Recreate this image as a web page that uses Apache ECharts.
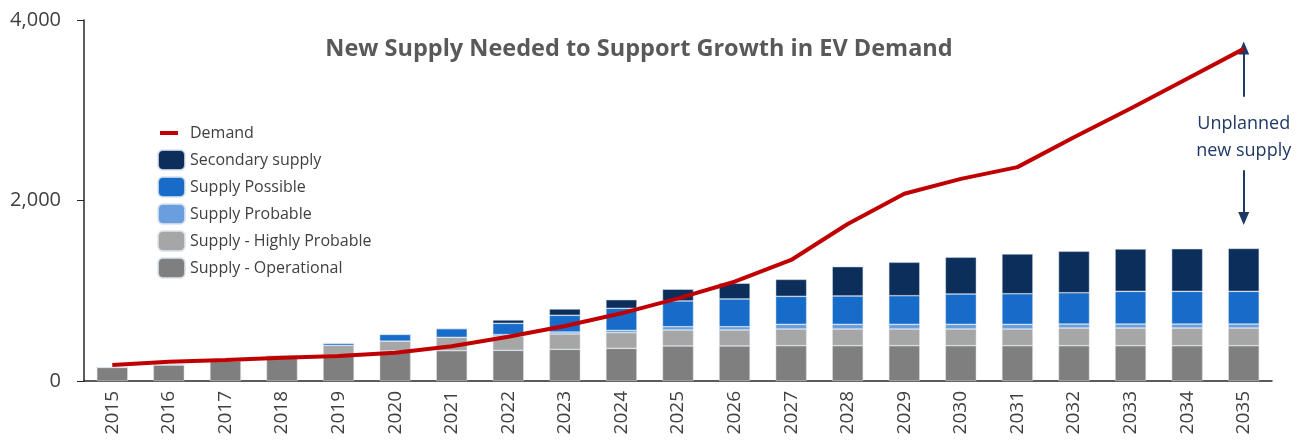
<!DOCTYPE html>
<html>
<head>
<meta charset="utf-8">
<script src="https://cdn.jsdelivr.net/npm/echarts@6/dist/echarts.min.js"></script>
<style>
  html, body { margin: 0; padding: 0; background: #fff; }
  #chart { width: 1306px; height: 440px; }
</style>
</head>
<body>
<div id="chart"></div>
<script>
// categories
var years = ['2015', '2016', '2017', '2018', '2019', '2020', '2021', '2022', '2023', '2024', '2025',
  '2026', '2027', '2028', '2029', '2030', '2031', '2032', '2033', '2034', '2035'];

// stacked supply, bottom to top
var operational = [150, 180, 225, 280, 288, 332, 336, 340, 351, 362, 388, 388, 391, 391, 391, 391, 391, 391, 391, 391, 391];
var highlyProbable = [0, 0, 0, 0, 107, 110, 148, 158, 170, 174, 177, 177, 185, 185, 185, 185, 185, 196, 196, 196, 196];
var probable = [0, 0, 0, 0, 0, 0, 0, 16, 22, 25, 37, 37, 52, 52, 52, 52, 52, 44, 44, 44, 44];
var possible = [0, 0, 0, 0, 22, 74, 96, 125, 185, 244, 285, 307, 310, 314, 317, 336, 339, 347, 362, 362, 362];
var secondary = [0, 0, 0, 0, 0, 0, 0, 37, 70, 96, 130, 174, 188, 325, 370, 407, 440, 459, 469, 472, 476];

// demand line
var demand = [177, 214, 233, 258, 277, 314, 385, 490, 610, 750, 916, 1100, 1341, 1740, 2075, 2240, 2370, 2700, 3020, 3350, 3680];

// y axis ticks
var yMax = 4000;
var yStep = 2000;

// annotation arrows at the last year
var arrowUp = [3150, 3690];
var arrowDown = [2335, 1800];
var noteValue = 2700;
var noteText = 'Unplanned\nnew supply';

var textColor = '#404040';
var navy = '#1F3864';

var chart = echarts.init(document.getElementById('chart'));

function barSeries(name, data, color) {
  return {
    name: name,
    type: 'bar',
    stack: 'supply',
    barWidth: 31,
    data: data,
    itemStyle: { color: color, borderColor: 'rgba(220,228,238,0.8)', borderWidth: 0.6 },
    emphasis: { disabled: true }
  };
}

var lastYear = years[years.length - 1];

var option = {
  animation: false,
  textStyle: { fontFamily: 'Open Sans' },
  title: {
    text: 'New Supply Needed to Support Growth in EV Demand',
    left: 634,
    textAlign: 'center',
    top: 32,
    textStyle: { fontFamily: 'Open Sans', fontWeight: 'bold', fontSize: 23.5, color: '#595959' }
  },
  legend: [
    {
      data: [{ name: 'Demand', icon: 'rect' }],
      left: 155,
      top: 120,
      itemWidth: 18,
      itemHeight: 4,
      textStyle: { fontSize: 16, color: textColor, padding: [0, 0, 0, 7] }
    },
    {
      data: ['Secondary supply', 'Supply Possible', 'Supply Probable', 'Supply - Highly Probable', 'Supply - Operational'],
      orient: 'vertical',
      left: 152,
      top: 144,
      itemWidth: 27,
      itemHeight: 20,
      itemGap: 5,
      textStyle: { fontSize: 16, color: textColor }
    }
  ],
  grid: { left: 84, right: 34, top: 20, bottom: 59, containLabel: false },
  xAxis: {
    type: 'category',
    data: years,
    axisLine: { lineStyle: { color: '#262626', width: 1.5 } },
    axisTick: { show: false },
    axisLabel: { rotate: 90, fontSize: 19, color: textColor, margin: 10 }
  },
  yAxis: {
    type: 'value',
    min: 0,
    max: yMax,
    interval: yStep,
    splitLine: { show: false },
    axisLine: { show: true, lineStyle: { color: '#262626', width: 1.5 } },
    axisTick: { show: true, length: 7, lineStyle: { color: '#262626' } },
    axisLabel: {
      fontSize: 20,
      color: textColor,
      margin: 23,
      formatter: function (v) { return v.toLocaleString('en-US'); }
    }
  },
  series: [
    barSeries('Supply - Operational', operational, '#7F7F7F'),
    barSeries('Supply - Highly Probable', highlyProbable, '#A6A6A6'),
    barSeries('Supply Probable', probable, '#6A9FDD'),
    barSeries('Supply Possible', possible, '#176BC9'),
    barSeries('Secondary supply', secondary, '#0C2E5B'),
    {
      name: 'Demand',
      type: 'line',
      data: demand,
      z: 5,
      symbol: 'none',
      color: '#C00000',
      lineStyle: { color: '#C00000', width: 4 },
      emphasis: { disabled: true },
      markLine: {
        silent: true,
        symbol: ['none', 'triangle'],
        symbolSize: [11, 13],
        label: { show: false },
        lineStyle: { color: navy, width: 2, type: 'solid' },
        data: [
          [{ coord: [lastYear, arrowUp[0]] }, { coord: [lastYear, arrowUp[1]] }],
          [{ coord: [lastYear, arrowDown[0]] }, { coord: [lastYear, arrowDown[1]] }]
        ]
      },
      markPoint: {
        silent: true,
        symbol: 'circle',
        symbolSize: 0,
        data: [{ coord: [lastYear, noteValue], value: noteText }],
        label: {
          show: true,
          position: 'inside',
          formatter: noteText,
          fontSize: 18,
          lineHeight: 27,
          color: navy,
          align: 'center'
        }
      }
    }
  ]
};

chart.setOption(option);
</script>
</body>
</html>
